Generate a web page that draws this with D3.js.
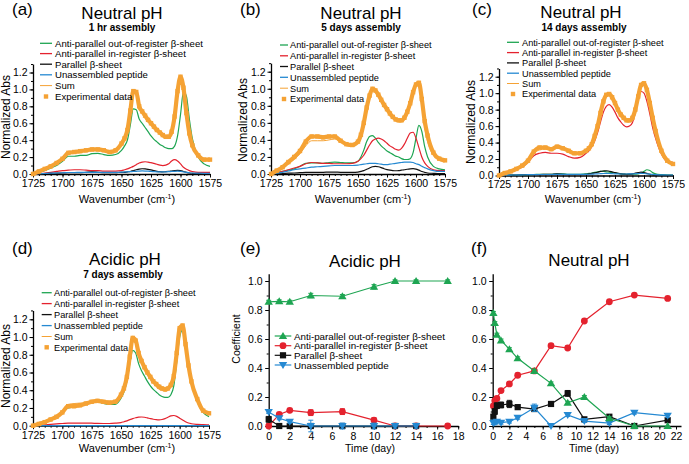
<!DOCTYPE html>
<html><head><meta charset="utf-8">
<script src="https://cdn.jsdelivr.net/npm/d3@7"></script>
<style>body{margin:0;background:#fff}</style>
</head><body><svg id="c" width="689" height="464" style="display:block;background:#fff"></svg>
<script>
// ---------------- DATA ----------------
const wavenumbers = [1725,1720,1715,1710,1705,1700,1695,1690,1685,1680,1675,1670,1665,1660,1655,1650,
  1647.5,1645,1642.5,1640,1637.5,1635,1632.5,1630,1627.5,1625,1622.5,1620,1617.5,1615,1612.5,1610,1607.5,1605,1602.5,1600,1597.5,1595,1592.5,1590,
  1585,1580,1575];
const waveTicks = [1725,1700,1675,1650,1625,1600,1575];
const absTicks = [0,0.2,0.4,0.6,0.8,1.0,1.2];
const seriesNames = ["Anti-parallel out-of-register β-sheet","Anti-parallel in-register β-sheet","Parallel β-sheet","Unassembled peptide","Sum","Experimental data"];

// (a) Neutral pH, 1 hr
const aGreen = [0,0.02,0.04,0.07,0.1,0.15,0.21,0.21,0.22,0.22,0.24,0.245,0.23,0.22,0.23,0.28,
  0.33,0.4,0.58,0.77,0.76,0.65,0.6,0.55,0.5,0.45,0.41,0.38,0.35,0.33,0.31,0.3,0.3,0.33,0.45,0.7,0.97,0.92,0.65,0.42,
  0.2,0.12,0.09];
const aRed = [0,0.005,0.01,0.02,0.03,0.04,0.045,0.05,0.05,0.045,0.04,0.04,0.035,0.035,0.035,0.04,
  0.05,0.06,0.075,0.09,0.11,0.13,0.14,0.145,0.14,0.135,0.125,0.115,0.105,0.1,0.105,0.12,0.155,0.17,0.155,0.12,0.08,0.055,0.04,0.03,
  0.02,0.02,0.02];
const aBlack = [0,0.002,0.005,0.008,0.01,0.012,0.015,0.015,0.015,0.02,0.025,0.02,0.015,0.015,0.015,0.02,
  0.02,0.025,0.03,0.04,0.05,0.058,0.062,0.06,0.055,0.048,0.04,0.032,0.027,0.025,0.027,0.03,0.035,0.04,0.043,0.04,0.03,0.02,0.012,0.008,
  0.004,0.002,0.002];
const aBlue = [0,0.003,0.006,0.01,0.012,0.015,0.018,0.018,0.02,0.02,0.02,0.02,0.02,0.02,0.02,0.022,
  0.024,0.026,0.028,0.03,0.032,0.035,0.036,0.035,0.033,0.03,0.028,0.026,0.025,0.025,0.026,0.028,0.03,0.032,0.033,0.03,0.025,0.02,0.015,0.012,
  0.01,0.008,0.008];
const aSum = [0,0.03,0.06,0.09,0.13,0.18,0.25,0.26,0.27,0.28,0.29,0.29,0.28,0.26,0.28,0.36,
  0.42,0.52,0.75,0.97,0.96,0.8,0.72,0.66,0.62,0.58,0.54,0.5,0.47,0.44,0.43,0.44,0.5,0.68,0.97,1.12,1.05,0.75,0.5,0.35,
  0.22,0.17,0.17];
const aExp = [0,0.03,0.06,0.09,0.13,0.18,0.25,0.26,0.27,0.28,0.29,0.29,0.28,0.26,0.28,0.36,
  0.42,0.52,0.75,0.98,0.97,0.8,0.74,0.69,0.64,0.6,0.56,0.52,0.49,0.46,0.44,0.44,0.5,0.68,0.98,1.15,1.02,0.72,0.48,0.34,
  0.22,0.17,0.17];

// (b) Neutral pH, 5 days
const bGreen = [0,0.015,0.03,0.045,0.06,0.09,0.125,0.13,0.13,0.125,0.135,0.14,0.135,0.13,0.13,0.15,
  0.2,0.28,0.38,0.44,0.45,0.42,0.37,0.33,0.3,0.27,0.25,0.23,0.21,0.2,0.18,0.17,0.17,0.18,0.25,0.42,0.57,0.5,0.32,0.2,
  0.09,0.06,0.05];
const bRed = [0,0.015,0.03,0.05,0.07,0.09,0.12,0.135,0.13,0.125,0.125,0.12,0.12,0.12,0.125,0.15,
  0.18,0.22,0.28,0.34,0.39,0.41,0.42,0.41,0.39,0.36,0.33,0.31,0.29,0.28,0.3,0.35,0.42,0.48,0.49,0.42,0.31,0.2,0.13,0.09,
  0.05,0.04,0.04];
const bBlack = [0,0.003,0.006,0.01,0.012,0.015,0.018,0.02,0.02,0.02,0.022,0.022,0.02,0.02,0.02,0.022,
  0.03,0.04,0.055,0.07,0.085,0.09,0.085,0.075,0.062,0.052,0.045,0.04,0.038,0.04,0.045,0.05,0.056,0.06,0.062,0.058,0.045,0.03,0.02,0.012,
  0.008,0.005,0.005];
const bBlue = [0,0.01,0.02,0.035,0.05,0.06,0.07,0.08,0.085,0.09,0.095,0.1,0.1,0.1,0.1,0.105,
  0.11,0.115,0.12,0.125,0.125,0.125,0.12,0.115,0.11,0.11,0.115,0.12,0.125,0.13,0.135,0.14,0.14,0.14,0.135,0.12,0.11,0.09,0.075,0.06,
  0.04,0.03,0.03];
const bSum = [0,0.03,0.07,0.12,0.17,0.24,0.33,0.39,0.39,0.39,0.4,0.41,0.38,0.36,0.35,0.38,
  0.47,0.62,0.8,0.93,0.99,0.97,0.92,0.86,0.8,0.75,0.7,0.66,0.63,0.62,0.63,0.67,0.75,0.86,0.98,1.05,1.02,0.82,0.55,0.38,
  0.22,0.17,0.16];
const bExp = [0,0.04,0.08,0.14,0.2,0.27,0.38,0.44,0.44,0.43,0.44,0.44,0.39,0.35,0.34,0.38,
  0.46,0.6,0.78,0.92,1.0,0.98,0.93,0.87,0.81,0.76,0.71,0.67,0.64,0.63,0.63,0.66,0.73,0.83,0.96,1.05,1.07,0.88,0.62,0.45,
  0.25,0.18,0.16];

// (c) Neutral pH, 14 days
const cGreen = [0,0.002,0.004,0.006,0.008,0.01,0.012,0.014,0.015,0.015,0.02,0.02,0.015,0.015,0.015,0.02,
  0.025,0.03,0.038,0.045,0.05,0.05,0.045,0.04,0.035,0.03,0.025,0.02,0.017,0.015,0.015,0.015,0.017,0.02,0.03,0.05,0.07,0.06,0.035,0.02,
  0.01,0.005,0.005];
const cRed = [0,0.025,0.05,0.075,0.1,0.16,0.24,0.27,0.28,0.27,0.27,0.26,0.23,0.21,0.22,0.27,
  0.3,0.35,0.42,0.52,0.65,0.77,0.84,0.86,0.83,0.77,0.7,0.65,0.61,0.59,0.6,0.64,0.76,0.92,1.02,1.0,0.9,0.75,0.58,0.45,
  0.26,0.17,0.16];
const cBlack = [0,0.002,0.004,0.006,0.008,0.01,0.012,0.012,0.014,0.015,0.02,0.015,0.012,0.012,0.012,0.015,
  0.02,0.025,0.032,0.04,0.05,0.055,0.058,0.052,0.045,0.035,0.027,0.02,0.017,0.015,0.016,0.02,0.028,0.035,0.04,0.035,0.025,0.015,0.008,0.005,
  0.002,0.001,0.001];
const cBlue = [0,0.003,0.005,0.007,0.008,0.01,0.011,0.012,0.012,0.012,0.013,0.013,0.013,0.013,0.013,0.014,
  0.015,0.016,0.018,0.02,0.022,0.024,0.025,0.024,0.022,0.02,0.019,0.018,0.018,0.018,0.019,0.02,0.022,0.024,0.025,0.024,0.02,0.016,0.013,0.01,
  0.008,0.006,0.006];
const cSum = [0,0.03,0.05,0.08,0.12,0.18,0.27,0.31,0.32,0.31,0.33,0.32,0.29,0.27,0.27,0.3,
  0.33,0.38,0.48,0.6,0.75,0.89,0.97,0.98,0.94,0.87,0.79,0.72,0.68,0.66,0.66,0.69,0.8,0.96,1.09,1.1,1.02,0.85,0.66,0.5,
  0.29,0.18,0.14];
const cExp = [0,0.03,0.05,0.08,0.12,0.18,0.29,0.34,0.34,0.32,0.35,0.33,0.3,0.27,0.27,0.3,
  0.33,0.38,0.48,0.6,0.76,0.9,0.98,0.99,0.95,0.88,0.8,0.74,0.7,0.67,0.67,0.7,0.8,0.96,1.1,1.12,1.04,0.88,0.7,0.54,
  0.3,0.18,0.14];

// (d) Acidic pH, 7 days
const dGreen = [0,0.02,0.04,0.07,0.1,0.15,0.2,0.21,0.23,0.25,0.26,0.27,0.25,0.24,0.24,0.31,
  0.38,0.5,0.7,0.85,0.82,0.7,0.62,0.56,0.5,0.45,0.41,0.38,0.35,0.33,0.32,0.32,0.35,0.45,0.72,1.0,1.08,0.9,0.66,0.48,
  0.27,0.15,0.1];
const dRed = [0,0.005,0.01,0.015,0.02,0.025,0.03,0.03,0.03,0.03,0.028,0.026,0.025,0.025,0.028,0.035,
  0.045,0.055,0.068,0.08,0.09,0.097,0.098,0.095,0.088,0.08,0.073,0.068,0.066,0.07,0.08,0.095,0.11,0.115,0.105,0.085,0.065,0.045,0.03,0.022,
  0.015,0.012,0.01];
const dBlack = [0,0,0,0,0,0,0,0,0,0,0,0,0,0,0,0,
  0,0,0,0.002,0.002,0.002,0.002,0.002,0,0,0,0,0,0,0,0,0,0.002,0.002,0.002,0,0,0,0,
  0,0,0];
const dBlue = [0,0,0,0,0,0,0,0,0,0,0,0,0,0,0,0,
  0,0,0,0,0,0,0,0,0,0,0,0,0,0,0,0,0,0,0,0,0,0,0,0,
  0,0,0];
const dSum = [0,0.02,0.04,0.07,0.1,0.15,0.24,0.25,0.255,0.26,0.28,0.285,0.27,0.26,0.27,0.35,
  0.42,0.55,0.78,0.98,0.95,0.81,0.72,0.65,0.59,0.53,0.48,0.44,0.41,0.4,0.39,0.4,0.45,0.56,0.82,1.09,1.13,0.93,0.68,0.5,
  0.29,0.17,0.12];
const dExp = [0,0.02,0.04,0.07,0.1,0.15,0.22,0.22,0.23,0.25,0.27,0.28,0.27,0.26,0.27,0.35,
  0.42,0.55,0.78,0.99,0.96,0.82,0.73,0.66,0.6,0.55,0.5,0.47,0.44,0.42,0.41,0.42,0.46,0.56,0.82,1.1,1.13,0.92,0.68,0.5,
  0.3,0.17,0.14];

// (e) Acidic pH coefficients vs time
const eDays = [0,1,2,4,7,10,12,14,17];
const eDaysShort = [0,1,2,4,7,10,12,14];
const eGreen = [0.857,0.86,0.857,0.9,0.895,0.96,1.0,1.0,1.0];
const eGreenErr = [0.01,0.01,0.01,0.015,0.012,0.015,0.008,0.008,0.008];
const eRed = [0,0.08,0.108,0.092,0.099,0.041,0,0,0];
const eRedErr = [0.005,0.01,0.01,0.02,0.02,0.015,0.005,0.005,0.005];
const eBlack = [0.046,0,0,0,0,0,0,0];
const eBlackErr = [0.02,0.01,0.01,0.01,0.01,0.01,0.01,0.01];
const eBlue = [0.097,0.053,0.03,0,0,0,0,0];
const eBlueErr = [0.01,0.01,0.01,0.04,0.02,0.02,0.015,0.015];

// (f) Neutral pH coefficients vs time
const fDays = [0.08,0.25,0.5,1,2,3,5,7,9,11,14,17,21];
const fGreen = [0.78,0.71,0.63,0.59,0.53,0.467,0.38,0.294,0.16,0.2,0.053,0,0];
const fGreenErr = [0.01,0.01,0.01,0.01,0.01,0.01,0.01,0.01,0.01,0.01,0.01,0.005,0.005];
const fRed = [0.138,0.175,0.19,0.244,0.29,0.35,0.38,0.554,0.538,0.724,0.857,0.903,0.88];
const fRedErr = [0.01,0.01,0.01,0.01,0.01,0.01,0.01,0.01,0.01,0.01,0.01,0.01,0.01];
const fBlack = [0.064,0.1,0.14,0.145,0.152,0.13,0.117,0.152,0.225,0.046,0.064,0,0.04];
const fBlackErr = [0.015,0.02,0.02,0.02,0.025,0.015,0.015,0.01,0.02,0.01,0.01,0.005,0.01];
const fBlue = [0.02,0.025,0.03,0.023,0.03,0.057,0.126,0,0.076,0.034,0.02,0.092,0.07];
const fBlueErr = [0.01,0.01,0.01,0.01,0.01,0.01,0.025,0.005,0.01,0.01,0.01,0.01,0.01];
const dayTicksE = [0,2,4,6,8,10,12,14,16,18];
const dayTicksF = [0,2,4,6,8,10,12,14,16,18,20,22];
const coefTicks = [0,0.2,0.4,0.6,0.8,1.0];

// ---------------- DRAWING ----------------
const FONT = "'Liberation Sans', Arial, Helvetica, sans-serif";
const COL = {green:"#1ea552", red:"#e4222e", black:"#111111", blue:"#2589d2", orange:"#f5a234"};
const svg = d3.select("#c");

function text(x, y, s, size, opt = {}) {
  return svg.append("text").attr("x", x).attr("y", y).attr("font-family", FONT)
    .attr("font-size", size).attr("font-weight", opt.bold ? "bold" : "normal")
    .attr("text-anchor", opt.anchor || "start").attr("fill", "#000").text(s);
}
function styleAxis(sel) {
  sel.attr("font-family", FONT).attr("font-size", 10.5);
  sel.selectAll(".domain").attr("stroke", "#000").attr("stroke-width", 1.3);
  sel.selectAll(".tick line").attr("stroke", "#000").attr("stroke-width", 1);
  sel.selectAll(".tick text").attr("fill", "#000");
}
function xLabelWave(cx, y) {
  const t = svg.append("text").attr("x", cx).attr("y", y).attr("font-family", FONT)
    .attr("font-size", 11).attr("text-anchor", "middle").attr("fill", "#000");
  t.append("tspan").text("Wavenumber (cm");
  t.append("tspan").attr("font-size", 7).attr("dy", -4).text("-1");
  t.append("tspan").attr("dy", 4).text(")");
}
function yLabel(x, cy, s, size) {
  svg.append("text").attr("transform", `translate(${x},${cy}) rotate(-90)`)
    .attr("font-family", FONT).attr("font-size", size).attr("text-anchor", "middle").attr("fill", "#000").text(s);
}

function spectrum(cfg, comps, sum, exp) {
  const k = (cfg.y0 - cfg.y12) / 1.2;
  const x = d3.scaleLinear().domain([1725, 1575]).range([cfg.x0, cfg.x1]);
  const y = d3.scaleLinear().domain([0, 1.3]).range([cfg.y0, cfg.y0 - 1.3 * k]);
  const mx = svg.append("g").attr("transform", `translate(0,${cfg.y0})`)
    .call(d3.axisBottom(x).tickValues(d3.range(1725, 1574, -5)).tickSize(2).tickFormat("").tickSizeOuter(0));
  mx.select(".domain").remove(); styleAxis(mx);
  const my = svg.append("g").attr("transform", `translate(${cfg.x0},0)`)
    .call(d3.axisLeft(y).tickValues(d3.range(0, 1.31, 0.1)).tickSize(2).tickFormat("").tickSizeOuter(0));
  my.select(".domain").remove(); styleAxis(my);
  const ax = svg.append("g").attr("transform", `translate(0,${cfg.y0})`)
    .call(d3.axisBottom(x).tickValues(waveTicks).tickSize(3.5).tickPadding(2).tickSizeOuter(0).tickFormat(d3.format("d")));
  styleAxis(ax);
  const ay = svg.append("g").attr("transform", `translate(${cfg.x0},0)`)
    .call(d3.axisLeft(y).tickValues(absTicks).tickSize(3.5).tickPadding(2).tickSizeOuter(0).tickFormat(d3.format(".1f")));
  styleAxis(ay);

  const line = d3.line().x((d, i) => x(wavenumbers[i])).y(d => y(d)).curve(d3.curveMonotoneX);
  const compCols = [COL.green, COL.red, COL.black, COL.blue];
  comps.forEach((arr, j) => {
    svg.append("path").attr("d", line(arr)).attr("fill", "none").attr("stroke", compCols[j]).attr("stroke-width", 1.2);
  });
  svg.append("path").attr("d", line(exp)).attr("fill", "none").attr("stroke", COL.orange).attr("stroke-width", 4.2);
  svg.append("g").selectAll("rect").data(exp).join("rect")
    .attr("x", (d, i) => x(wavenumbers[i]) - 2.2).attr("y", d => y(d) - 2.2)
    .attr("width", 4.4).attr("height", 4.4).attr("fill", COL.orange);
  svg.append("path").attr("d", line(sum)).attr("fill", "none").attr("stroke", COL.orange).attr("stroke-width", 1);

  const L = cfg.legend;
  const lcols = [COL.green, COL.red, COL.black, COL.blue, COL.orange];
  seriesNames.forEach((name, i) => {
    const yy = L.y[i];
    if (i < 5) {
      svg.append("line").attr("x1", L.x1).attr("x2", L.x2).attr("y1", yy).attr("y2", yy)
        .attr("stroke", lcols[i]).attr("stroke-width", i === 4 ? 1 : 1.3);
    } else {
      const cx = (L.x1 + L.x2) / 2;
      svg.append("rect").attr("x", cx - 2.2).attr("y", yy - 2.2).attr("width", 4.4).attr("height", 4.4).attr("fill", COL.orange);
    }
    text(L.tx, yy + 3.3, name, L.fs);
  });
  text(cfg.tag[0], cfg.tag[1], cfg.tagText, 17);
  text(cfg.title[0], cfg.title[1], cfg.titleText, 17, {anchor: "middle"});
  text(cfg.sub[0], cfg.sub[1], cfg.subText, 10, {anchor: "middle", bold: true});
  xLabelWave(cfg.xlab[0], cfg.xlab[1]);
  yLabel(cfg.ylab[0], cfg.ylab[1], "Normalized Abs", 12);
}

spectrum({x0: 33, x1: 210, y0: 174, y12: 72.5, tag: [12, 15], tagText: "(a)", title: [122, 18.5], titleText: "Neutral pH",
  sub: [122, 30.5], subText: "1 hr assembly", xlab: [127, 203], ylab: [10, 117],
  legend: {x1: 40, x2: 52, tx: 55, fs: 9.6, y: [43.3, 53.6, 64.2, 74.8, 85.6, 96.5]}},
  [aGreen, aRed, aBlack, aBlue], aSum, aExp);

spectrum({x0: 271, x1: 445, y0: 174, y12: 71.7, tag: [240, 15], tagText: "(b)", title: [361, 18.5], titleText: "Neutral pH",
  sub: [361, 31], subText: "5 days assembly", xlab: [363, 203], ylab: [247, 120],
  legend: {x1: 280, x2: 288, tx: 290, fs: 9.2, y: [45, 55.8, 66.5, 77.3, 88.2, 99]}},
  [bGreen, bRed, bBlack, bBlue], bSum, bExp);

spectrum({x0: 499, x1: 673, y0: 175.5, y12: 76.7, tag: [472, 15], tagText: "(c)", title: [581, 18], titleText: "Neutral pH",
  sub: [584, 31], subText: "14 days assembly", xlab: [593, 203], ylab: [475, 122],
  legend: {x1: 507, x2: 519, tx: 522, fs: 9.2, y: [42.3, 52.6, 62.9, 73.2, 83.5, 94]}},
  [cGreen, cRed, cBlack, cBlue], cSum, cExp);

spectrum({x0: 33, x1: 209, y0: 425.7, y12: 319.3, tag: [12, 254], tagText: "(d)", title: [125, 265], titleText: "Acidic pH",
  sub: [123, 278], subText: "7 days assembly", xlab: [127, 451.5], ylab: [10, 366],
  legend: {x1: 41.7, x2: 51.7, tx: 54, fs: 9.2, y: [292.7, 303.6, 314.6, 325.6, 336.5, 347.3]}},
  [dGreen, dRed, dBlack, dBlue], dSum, dExp);

function marker(g, type, cx, cy, col) {
  if (type === "circle") g.append("circle").attr("cx", cx).attr("cy", cy).attr("r", 3.4).attr("fill", col);
  else if (type === "square") g.append("rect").attr("x", cx - 3.1).attr("y", cy - 3.1).attr("width", 6.2).attr("height", 6.2).attr("fill", col);
  else if (type === "up") g.append("path").attr("d", `M${cx},${cy - 4}L${cx + 4.2},${cy + 3}L${cx - 4.2},${cy + 3}Z`).attr("fill", col);
  else g.append("path").attr("d", `M${cx},${cy + 4}L${cx + 4.2},${cy - 3}L${cx - 4.2},${cy - 3}Z`).attr("fill", col);
}

function timePanel(cfg, series) {
  const x = d3.scaleLinear().domain(cfg.xdom).range([cfg.x0, cfg.x1]);
  const y = d3.scaleLinear().domain([0, 1.05]).range([cfg.y0, cfg.y0 - 1.05 * (cfg.y0 - cfg.y1)]);
  const mx = svg.append("g").attr("transform", `translate(0,${cfg.y0})`)
    .call(d3.axisBottom(x).tickValues(d3.range(0, cfg.xdom[1] + 0.01, 1)).tickSize(2).tickFormat("").tickSizeOuter(0));
  mx.select(".domain").remove(); styleAxis(mx);
  const my = svg.append("g").attr("transform", `translate(${cfg.x0},0)`)
    .call(d3.axisLeft(y).tickValues(d3.range(0, 1.01, 0.1)).tickSize(2).tickFormat("").tickSizeOuter(0));
  my.select(".domain").remove(); styleAxis(my);
  const ax = svg.append("g").attr("transform", `translate(0,${cfg.y0})`)
    .call(d3.axisBottom(x).tickValues(cfg.xticks).tickSize(3.5).tickPadding(3).tickSizeOuter(0).tickFormat(d3.format("d")));
  styleAxis(ax);
  const ay = svg.append("g").attr("transform", `translate(${cfg.x0},0)`)
    .call(d3.axisLeft(y).tickValues(coefTicks).tickSize(3.5).tickPadding(2.5).tickSizeOuter(0).tickFormat(d3.format(".1f")));
  styleAxis(ay);

  series.forEach(s => {
    const g = svg.append("g");
    const line = d3.line().x((d, i) => x(s.days[i])).y(d => y(d));
    g.append("path").attr("d", line(s.vals)).attr("fill", "none").attr("stroke", s.col).attr("stroke-width", 1.2);
    s.vals.forEach((v, i) => {
      const e = s.err[i], cx = x(s.days[i]);
      if (e > 0.006) {
        g.append("line").attr("x1", cx).attr("x2", cx).attr("y1", y(v - e)).attr("y2", y(v + e)).attr("stroke", s.col).attr("stroke-width", 1);
        [v - e, v + e].forEach(t => g.append("line").attr("x1", cx - 2.5).attr("x2", cx + 2.5).attr("y1", y(t)).attr("y2", y(t)).attr("stroke", s.col).attr("stroke-width", 1));
      }
      marker(g, s.m, cx, y(v), s.col);
    });
  });
  text(cfg.tag[0], cfg.tag[1], cfg.tagText, 17);
  text(cfg.title[0], cfg.title[1], cfg.titleText, 17, {anchor: "middle"});
  text(cfg.xlab[0], cfg.xlab[1], "Time (day)", 10.5, {anchor: "middle"});
  if (cfg.ylab) yLabel(cfg.ylab[0], cfg.ylab[1], "Coefficient", 10.5);
  if (cfg.legend) {
    const L = cfg.legend;
    const legItems = [["up", COL.green], ["circle", COL.red], ["square", COL.black], ["down", COL.blue]];
    legItems.forEach((it, i) => {
      const yy = L.y[i];
      svg.append("line").attr("x1", L.x1).attr("x2", L.x2).attr("y1", yy).attr("y2", yy).attr("stroke", it[1]).attr("stroke-width", 1.2);
      marker(svg, it[0], (L.x1 + L.x2) / 2, yy, it[1]);
      text(L.tx, yy + 3.5, seriesNames[i], L.fs);
    });
  }
}

timePanel({x0: 268.7, x1: 458.2, xdom: [0, 18], y0: 426, y1: 281, xticks: dayTicksE,
  tag: [240, 254], tagText: "(e)", title: [365, 266.5], titleText: "Acidic pH", xlab: [370, 451.5], ylab: [240, 339],
  legend: {x1: 274.7, x2: 291.3, tx: 294, fs: 9.8, y: [336, 345.7, 355.3, 365]}},
  [
    {days: eDays, vals: eGreen, err: eGreenErr, col: COL.green, m: "up"},
    {days: eDays, vals: eRed, err: eRedErr, col: COL.red, m: "circle"},
    {days: eDaysShort, vals: eBlack, err: eBlackErr, col: COL.black, m: "square"},
    {days: eDaysShort, vals: eBlue, err: eBlueErr, col: COL.blue, m: "down"}
  ]);

timePanel({x0: 492.7, x1: 681, xdom: [0, 22.6], y0: 426, y1: 281, xticks: dayTicksF,
  tag: [471, 254], tagText: "(f)", title: [589, 266], titleText: "Neutral pH", xlab: [594, 451.5]},
  [
    {days: fDays, vals: fRed, err: fRedErr, col: COL.red, m: "circle"},
    {days: fDays, vals: fBlack, err: fBlackErr, col: COL.black, m: "square"},
    {days: fDays, vals: fBlue, err: fBlueErr, col: COL.blue, m: "down"},
    {days: fDays, vals: fGreen, err: fGreenErr, col: COL.green, m: "up"}
  ]);
</script></body></html>
